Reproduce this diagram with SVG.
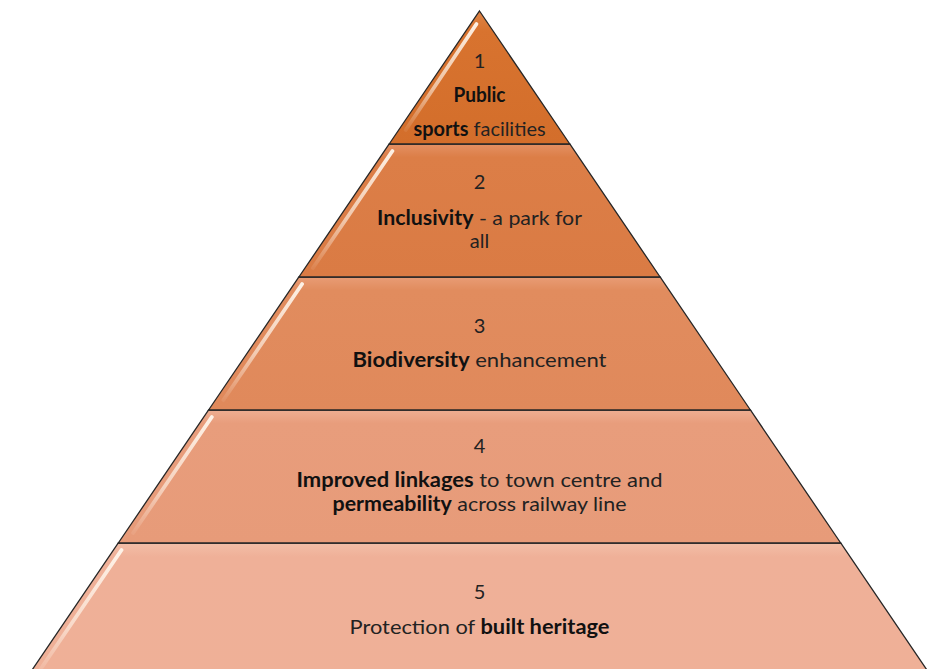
<svg xmlns="http://www.w3.org/2000/svg" width="945" height="669" viewBox="0 0 945 669">
  <defs>
    <linearGradient id="g1" x1="0" y1="0" x2="0" y2="1">
      <stop offset="0" stop-color="#DE8446"/>
      <stop offset="0.15" stop-color="#D8732F"/>
      <stop offset="1" stop-color="#D36E2B"/>
    </linearGradient>
    <linearGradient id="g2" x1="0" y1="0" x2="0" y2="1">
      <stop offset="0" stop-color="#E49063"/>
      <stop offset="0.1" stop-color="#DC7E47"/>
      <stop offset="1" stop-color="#DA7B44"/>
    </linearGradient>
    <linearGradient id="g3" x1="0" y1="0" x2="0" y2="1">
      <stop offset="0" stop-color="#E89C75"/>
      <stop offset="0.1" stop-color="#E18C5E"/>
      <stop offset="1" stop-color="#E0895B"/>
    </linearGradient>
    <linearGradient id="g4" x1="0" y1="0" x2="0" y2="1">
      <stop offset="0" stop-color="#EEAE92"/>
      <stop offset="0.1" stop-color="#E89D7C"/>
      <stop offset="1" stop-color="#E79B79"/>
    </linearGradient>
    <linearGradient id="g5" x1="0" y1="0" x2="0" y2="1">
      <stop offset="0" stop-color="#F3BEA7"/>
      <stop offset="0.1" stop-color="#EFB098"/>
      <stop offset="1" stop-color="#EFB097"/>
    </linearGradient>
    <linearGradient id="gloss" x1="0" y1="0" x2="0" y2="1">
      <stop offset="0" stop-color="#FFF6EC" stop-opacity="0.95"/>
      <stop offset="0.6" stop-color="#FFF6EC" stop-opacity="0.6"/>
      <stop offset="1" stop-color="#FFF6EC" stop-opacity="0.08"/>
    </linearGradient>
    <filter id="soft" x="-20%" y="-20%" width="140%" height="140%">
      <feGaussianBlur stdDeviation="0.7"/>
    </filter>
  </defs>
  <style>
    .layer { stroke: #262626; stroke-width: 1.3; stroke-linejoin: miter; }
    .hl { fill: none; stroke: url(#gloss); stroke-width: 3.8; stroke-linecap: round; filter: url(#soft); }
    .t { font-family: Lato, "Open Sans", "Liberation Sans", sans-serif; font-size: 20px; fill: #222222; text-anchor: middle; }
    .b { font-weight: 700; fill: #111111; }
  </style>
  <rect x="0" y="0" width="945" height="669" fill="#FFFFFF"/>

  <g id="level-5">
    <polygon class="layer" fill="url(#g5)" points="118.3,543 840.7,543 935.1,682 23.9,682"/>
    <line class="hl" x1="121.5" y1="550" x2="36.6" y2="675"/>
    <text class="t" x="479.5" y="599">5</text>
    <text class="t" x="479.5" y="634" textLength="260" lengthAdjust="spacingAndGlyphs">Protection of <tspan class="b">built heritage</tspan></text>
  </g>

  <g id="level-4">
    <polygon class="layer" fill="url(#g4)" points="208.6,410 750.4,410 840.7,543 118.3,543"/>
    <line class="hl" x1="211.8" y1="417" x2="133.1" y2="533"/>
    <text class="t" x="479.5" y="453">4</text>
    <text class="t" x="479.5" y="487" textLength="366" lengthAdjust="spacingAndGlyphs"><tspan class="b">Improved linkages</tspan> to town centre and</text>
    <text class="t" x="479.5" y="511" textLength="294" lengthAdjust="spacingAndGlyphs"><tspan class="b">permeability</tspan> across railway line</text>
  </g>

  <g id="level-3">
    <polygon class="layer" fill="url(#g3)" points="298.9,277 660.1,277 750.4,410 208.6,410"/>
    <line class="hl" x1="302.1" y1="284" x2="223.4" y2="400"/>
    <text class="t" x="479.5" y="333">3</text>
    <text class="t" x="479.5" y="367" textLength="254" lengthAdjust="spacingAndGlyphs"><tspan class="b">Biodiversity</tspan> enhancement</text>
  </g>

  <g id="level-2">
    <polygon class="layer" fill="url(#g2)" points="389.2,144 569.8,144 660.1,277 298.9,277"/>
    <line class="hl" x1="392.4" y1="151" x2="312.9" y2="268"/>
    <text class="t" x="479.5" y="189">2</text>
    <text class="t" x="479.5" y="225" textLength="205" lengthAdjust="spacingAndGlyphs"><tspan class="b">Inclusivity</tspan> - a park for</text>
    <text class="t" x="479.5" y="248">all</text>
  </g>

  <g id="level-1">
    <polygon class="layer" fill="url(#g1)" points="479.5,11 569.8,144 389.2,144"/>
    <line class="hl" x1="476.5" y1="24" x2="405.7" y2="130"/>
    <text class="t" x="479.5" y="68">1</text>
    <text class="t b" x="479.5" y="102" textLength="52" lengthAdjust="spacingAndGlyphs">Public</text>
    <text class="t" x="479.5" y="136" textLength="132" lengthAdjust="spacingAndGlyphs"><tspan class="b">sports</tspan> facilities</text>
  </g>

  <g id="connectors"></g>
</svg>
